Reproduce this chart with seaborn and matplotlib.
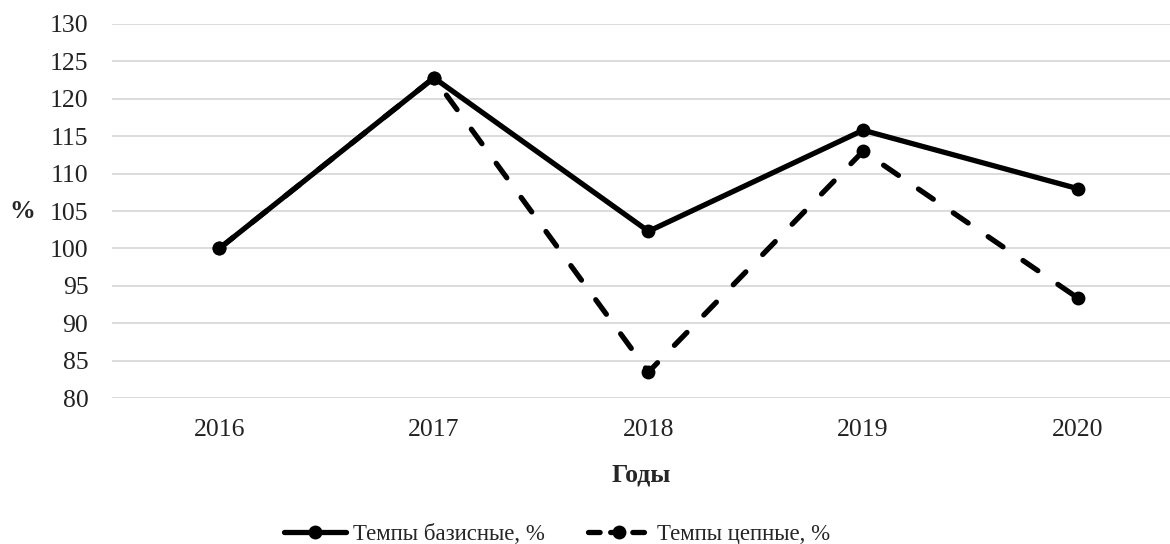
import numpy as np
import pandas as pd
import matplotlib
matplotlib.use("Agg")
import matplotlib.pyplot as plt
import seaborn as sns

years = ["2016", "2017", "2018", "2019", "2020"]
base_rates = [100.0, 122.8, 102.3, 115.8, 108.0]
chain_rates = [100.0, 122.8, 83.5, 113.0, 93.4]
series_names = ["Темпы базисные, %", "Темпы цепные, %"]
y_ticks = list(range(80, 131, 5))

df = pd.DataFrame({
    "year": years * 2,
    "val": base_rates + chain_rates,
    "series": [series_names[0]] * len(years) + [series_names[1]] * len(years),
})

sns.set_style("white")
plt.rcParams['font.family'] = ['Liberation Serif', 'DejaVu Serif']

fig = plt.figure(figsize=(11.7, 5.44), dpi=100)
ax = fig.add_axes([0.0957, 0.268, 0.9043, 0.688])

sns.lineplot(data=df, x="year", y="val", style="series", ax=ax, color="black",
             lw=3.8, markers={series_names[0]: "o", series_names[1]: "o"},
             dashes={series_names[0]: "", series_names[1]: (3.4, 4.6)},
             markersize=10, markeredgewidth=0, sort=False)
for ln in ax.lines:
    ln.set_dash_capstyle("round")
    ln.set_solid_capstyle("round")

ax.set_ylim(80, 130)
ax.set_yticks(y_ticks)
ax.set_xlim(-0.5, 4.43)
ax.grid(axis='y', color='#d9d9d9', lw=1.3)
ax.set_axisbelow(True)
for s in ax.spines.values():
    s.set_visible(False)
ax.tick_params(axis='both', length=0, labelsize=18.5, colors='#222222')
ax.tick_params(axis='x', pad=15)
ax.tick_params(axis='y', pad=17)

ax.set_xlabel("Годы", fontsize=18.5, fontweight='bold', labelpad=16)
ax.set_ylabel("%", fontsize=18.5, fontweight='bold', rotation=0, labelpad=20, va='center')

handles, labels = ax.get_legend_handles_labels()
ax.get_legend().remove()
for h in handles:
    h.set_dash_capstyle("round")
    h.set_solid_capstyle("round")
handles[1].set_dashes((2.2, 2.0))
fig.legend(handles, labels, loc='lower center', bbox_to_anchor=(0.476, -0.04),
           ncol=2, frameon=False, fontsize=16.5, handlelength=2.7,
           columnspacing=1.9, handletextpad=0.3)

fig.savefig("out.png", dpi=100)
